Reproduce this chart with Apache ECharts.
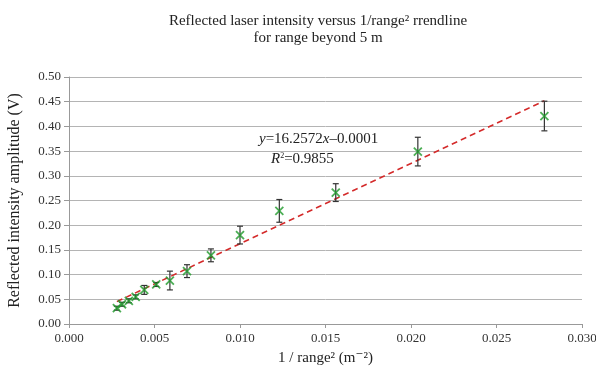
<!DOCTYPE html>
<html>
<head>
<meta charset="utf-8">
<script src="https://cdn.jsdelivr.net/npm/echarts@6/dist/echarts.min.js"></script>
<style>
  html, body { margin: 0; padding: 0; background: #fff; }
  #chart { width: 596px; height: 374px; }
</style>
</head>
<body>
<div id="chart"></div>
<script>
// 1/range^2 (m^-2) for ranges 6..19 m
const invRange2 = [0.0278, 0.0204, 0.0156, 0.0123, 0.0100, 0.0083, 0.0069, 0.0059, 0.0051, 0.0044, 0.0039, 0.0035, 0.0031, 0.0028];
const amplitude = [0.421, 0.349, 0.266, 0.229, 0.180, 0.139, 0.107, 0.088, 0.080, 0.069, 0.055, 0.047, 0.040, 0.032];
const errAmp    = [0.030, 0.029, 0.018, 0.023, 0.018, 0.013, 0.013, 0.019, 0.004, 0.009, 0.004, 0.004, 0.004, 0.004];

const slope = 16.2572;
const intercept = -0.0001;
const xTicks = ['0.000', '0.005', '0.010', '0.015', '0.020', '0.025', '0.030'];

const serif = '"Liberation Serif", "DejaVu Serif", serif';

const points = invRange2.map((x, i) => [x, amplitude[i]]);
const bars = invRange2.map((x, i) => [x, amplitude[i] - errAmp[i], amplitude[i] + errAmp[i]]);
const xMin = Math.min(...invRange2), xMax = Math.max(...invRange2);
const trend = [[xMin, slope * xMin + intercept], [xMax, slope * xMax + intercept]];

const chart = echarts.init(document.getElementById('chart'));
chart.setOption({
  animation: false,
  title: {
    text: 'Reflected laser intensity versus 1/range² rrendline\nfor range beyond 5 m',
    left: 313,
    top: 8,
    textAlign: 'center',
    textStyle: { fontFamily: serif, fontSize: 15, fontWeight: 'normal', color: '#222', lineHeight: 17 }
  },
  grid: { left: 69, right: 14, top: 77, bottom: 50, outerBoundsMode: 'none' },
  xAxis: {
    type: 'value', min: 0, max: 0.03, interval: 0.005,
    name: '1 / range² (m⁻²)', nameLocation: 'middle', nameGap: 27,
    nameTextStyle: { fontFamily: serif, fontSize: 15, color: '#222' },
    axisLine: { lineStyle: { color: '#999' } },
    axisTick: { length: 4, lineStyle: { color: '#999' } },
    axisLabel: { fontFamily: serif, fontSize: 13, color: '#333', margin: 8,
      formatter: (v) => xTicks[Math.round(v / 0.005)] },
    splitLine: { show: false }
  },
  yAxis: {
    type: 'value', min: 0, max: 0.5, interval: 0.05,
    name: 'Reflected intensity amplitude (V)', nameLocation: 'middle', nameGap: 46,
    nameTextStyle: { fontFamily: serif, fontSize: 16, color: '#222' },
    axisLine: { show: true, lineStyle: { color: '#999' } },
    axisTick: { show: true, length: 5, lineStyle: { color: '#999' } },
    axisLabel: { fontFamily: serif, fontSize: 13, color: '#333', margin: 8,
      formatter: (v) => v.toFixed(2) },
    splitLine: { lineStyle: { color: '#b4b4b4' } }
  },
  graphic: [{
    type: 'group', left: 236, top: 128, z: 5,
    children: [
      { type: 'rect', shape: { x: 0, y: 0, width: 167, height: 44 }, style: { fill: '#fff' } },
      { type: 'text', x: 23, y: 4, style: {
        text: '{i|y}=16.2572{i|x}–0.0001', fontFamily: serif, fontSize: 15, fill: '#222',
        rich: { i: { fontStyle: 'italic', fontFamily: serif, fontSize: 15 } } } },
      { type: 'text', x: 35, y: 24, style: {
        text: '{i|R}{s|2}=0.9855', fontFamily: serif, fontSize: 15, fill: '#222',
        rich: { i: { fontStyle: 'italic', fontFamily: serif, fontSize: 15 },
                s: { fontFamily: serif, fontSize: 8, verticalAlign: 'top', padding: [0, 0, 6, 0] } } } }
    ]
  }],
  series: [
    {
      type: 'line', data: trend, symbol: 'none', z: 6,
      lineStyle: { color: '#d42a2a', width: 1.5, type: [6, 4] }
    },
    {
      type: 'custom', data: bars, z: 7,
      renderItem: (params, api) => {
        const x = api.value(0);
        const lo = api.coord([x, api.value(1)]);
        const hi = api.coord([x, api.value(2)]);
        const c = 3;
        const st = { stroke: '#333', lineWidth: 1.2 };
        return { type: 'group', children: [
          { type: 'line', shape: { x1: lo[0], y1: lo[1], x2: hi[0], y2: hi[1] }, style: st },
          { type: 'line', shape: { x1: lo[0] - c, y1: lo[1], x2: lo[0] + c, y2: lo[1] }, style: st },
          { type: 'line', shape: { x1: hi[0] - c, y1: hi[1], x2: hi[0] + c, y2: hi[1] }, style: st }
        ] };
      }
    },
    {
      type: 'scatter', data: points, z: 8,
      symbol: 'path://M0,0L10,10M10,0L0,10', symbolSize: 8,
      itemStyle: { color: 'none', borderColor: '#1f9a2a', borderWidth: 1.8 }
    }
  ]
});
</script>
</body>
</html>
